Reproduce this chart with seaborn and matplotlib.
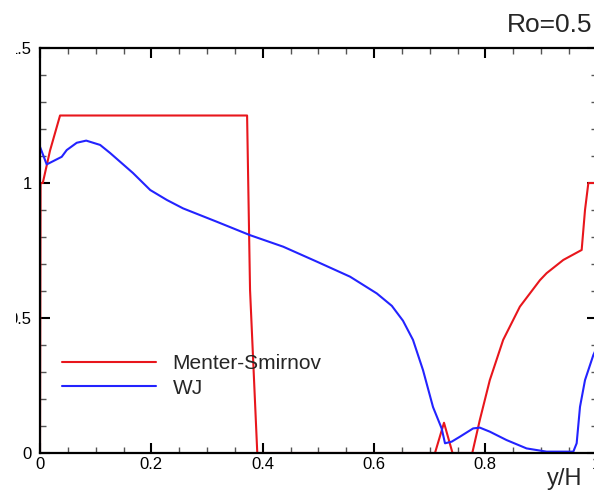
import matplotlib
matplotlib.use("Agg")
import matplotlib.pyplot as plt
import matplotlib.transforms as mtransforms
from matplotlib.ticker import MultipleLocator
import numpy as np
import pandas as pd
import seaborn as sns

# values
x_ms = [0.0, 0.001, 0.005, 0.018, 0.036, 0.372, 0.3773, 0.3903, 0.7095, 0.7257,
        0.741, 0.7765, 0.790, 0.808, 0.832, 0.862, 0.898, 0.910, 0.940, 0.973,
        0.979, 0.985, 1.0]
y_ms = [0.0, 1.0, 1.0, 1.12, 1.25, 1.25, 0.604, 0.0, 0.0, 0.112,
        0.0, 0.0, 0.122, 0.27, 0.419, 0.542, 0.64, 0.666, 0.715, 0.752,
        0.9, 1.0, 1.0]

x_wj = [0.0, 0.012, 0.018, 0.039, 0.048, 0.066, 0.083, 0.108, 0.126, 0.167,
        0.198, 0.228, 0.257, 0.317, 0.377, 0.437, 0.497, 0.557, 0.605, 0.632,
        0.652, 0.670, 0.688, 0.706, 0.7215, 0.7275, 0.7395, 0.754, 0.778, 0.790,
        0.808, 0.838, 0.874, 0.910, 0.958, 0.964, 0.970, 0.979, 0.994, 1.0]
y_wj = [1.134, 1.069, 1.075, 1.097, 1.122, 1.149, 1.157, 1.141, 1.111, 1.037,
        0.974, 0.937, 0.906, 0.857, 0.807, 0.764, 0.709, 0.653, 0.591, 0.545,
        0.490, 0.419, 0.307, 0.170, 0.091, 0.036, 0.042, 0.060, 0.091, 0.094,
        0.079, 0.048, 0.017, 0.005, 0.005, 0.036, 0.171, 0.27, 0.363, 0.39]

series = ["Menter-Smirnov", "WJ"]
colors = {"Menter-Smirnov": "#e8161c", "WJ": "#2323ff"}

y_ticks = [0, 0.5, 1.0, 1.5]
y_ticklabels = ["0", "0.5", "1", "1.5"]
x_ticks = [0, 0.2, 0.4, 0.6, 0.8, 1.0]
x_ticklabels = ["0", "0.2", "0.4", "0.6", "0.8", "1"]

df = pd.concat([
    pd.DataFrame({"x": x_ms, "y": y_ms, "model": series[0]}),
    pd.DataFrame({"x": x_wj, "y": y_wj, "model": series[1]}),
])

sns.set_style("ticks")
plt.rcParams["font.family"] = ["Liberation Sans", "DejaVu Sans"]

fig = plt.figure(figsize=(5.94, 4.90), dpi=100)
ax = fig.add_axes([40 / 594, 37 / 490, 556.7 / 594, 405 / 490])

sns.lineplot(data=df, x="x", y="y", hue="model", hue_order=series, palette=colors,
             sort=False, estimator=None, linewidth=1.5, ax=ax)

ax.set_xlim(0, 1)
ax.set_ylim(0, 1.5)
ax.set_xticks(x_ticks)
ax.set_xticklabels(x_ticklabels)
ax.set_yticks(y_ticks)
ax.set_yticklabels(y_ticklabels)
ax.xaxis.set_minor_locator(MultipleLocator(0.05))
ax.yaxis.set_minor_locator(MultipleLocator(0.1))
ax.tick_params(which="both", direction="in", top=True, right=True, colors="black")
ax.tick_params(which="major", length=7, width=1.5, labelsize=12)
ax.tick_params(axis="x", which="major", pad=3)
ax.tick_params(axis="y", which="major", pad=6)
ax.tick_params(which="minor", length=4, width=1, color="#555555")
for s in ax.spines.values():
    s.set_linewidth(1.6)
    s.set_color("black")

ax.set_ylabel("")
ax.set_xlabel("y/H", fontsize=17)
ax.xaxis.set_label_coords((582 - 40) / 556.7, (453 - 485) / 405)
ax.xaxis.label.set_ha("right")
ax.xaxis.label.set_va("baseline")

fig.text(592 / 594, (490 - 32) / 490, "Ro=0.5", ha="right", va="baseline", fontsize=19)

sns.move_legend(ax, "center left", bbox_to_anchor=(0.0395, 0.19), title=None,
                frameon=False, fontsize=15, handlelength=4.5, handletextpad=0.8,
                labelspacing=0.25, borderpad=0, borderaxespad=0)

# the left edge of the reference is cropped through the y tick labels
clip = mtransforms.TransformedBbox(mtransforms.Bbox([[15.5 / 594, 0], [1, 1]]), fig.transFigure)
for lab in ax.get_yticklabels():
    lab.set_clip_box(clip)
    lab.set_clip_on(True)

fig.savefig("out.png", dpi=100)
